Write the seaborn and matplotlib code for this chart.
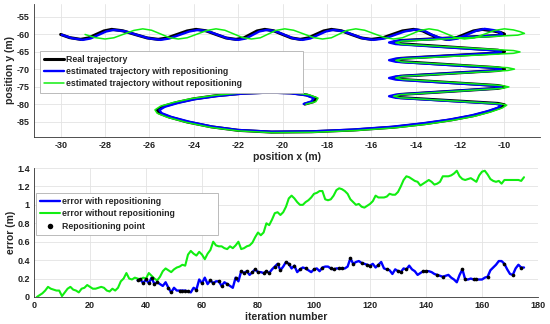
import numpy as np
import pandas as pd
import seaborn as sns
import matplotlib.pyplot as plt
from matplotlib.ticker import FuncFormatter

# --- top panel: trajectories (x, y in m) ---
real_x = [-30.0, -29.6, -29.1, -28.75, -28.4, -28.05, -27.7, -27.2, -26.65, -26.1, -25.6, -25.2, -24.75, -24.3,
          -23.9, -23.45, -23.0, -22.55, -22.1, -21.75, -21.45, -21.15, -20.8, -20.4, -20.0, -19.6, -19.2, -18.85,
          -18.5, -18.15, -17.8, -17.35, -16.9, -16.45, -16.0, -15.5, -15.05, -14.6, -14.1, -13.7, -13.35, -12.95,
          -12.6, -12.2, -11.8, -11.4, -11.0, -10.5, -10.15, -10.0,
          -10.3, -14.7, -15.0, -14.7, -10.3, -10.0, -10.3, -14.7, -15.0, -14.7, -10.3, -10.0, -10.3, -14.7, -15.0,
          -14.7, -10.3, -10.0, -10.3, -14.7, -15.0, -14.7, -10.3, -10.0,
          -10.2, -10.7, -11.4, -12.4, -13.6, -15.0, -16.8, -18.7, -20.5, -22.0, -23.2, -24.3, -25.1, -25.55,
          -25.65, -25.4, -24.8, -24.0, -23.0, -21.8, -20.6, -19.6, -18.9, -18.5, -18.6, -19.0]
real_y = [-60.0, -60.9, -61.4, -61.0, -60.0, -59.0, -58.55, -58.95, -60.0, -61.0, -61.4, -61.0, -60.0, -59.0,
          -58.55, -58.95, -60.0, -61.0, -61.4, -61.0, -60.0, -59.0, -58.55, -58.95, -60.0, -61.0, -61.4, -61.0,
          -60.0, -59.0, -58.55, -58.95, -60.0, -61.0, -61.4, -61.0, -60.0, -59.0, -58.55, -58.95, -60.0, -61.0,
          -61.4, -61.0, -60.0, -59.0, -58.55, -59.0, -59.5, -59.9,
          -60.3, -61.75, -62.2, -62.65, -64.5, -64.9, -65.3, -66.85, -67.3, -67.75, -69.5, -69.9, -70.3, -71.95,
          -72.4, -72.85, -74.6, -75.0, -75.4, -77.15, -77.6, -78.05, -79.7, -80.1,
          -80.9, -82.0, -83.2, -84.4, -85.5, -86.5, -87.3, -87.8, -87.9, -87.4, -86.4, -85.0, -83.6, -82.5,
          -81.6, -80.6, -79.5, -78.4, -77.5, -76.8, -76.5, -76.7, -77.3, -78.2, -79.2, -79.9]

repo_x = [-29.95, -29.5, -29.0, -28.65, -28.3, -27.95, -27.6, -27.1, -26.55, -26.0, -25.5, -25.1, -24.65, -24.2,
          -23.8, -23.35, -22.9, -22.45, -22.0, -21.65, -21.35, -21.05, -20.7, -20.3, -19.9, -19.5, -19.1, -18.75,
          -18.4, -18.05, -17.7, -17.25, -16.8, -16.35, -15.9, -15.4, -14.95, -14.5, -14.0, -13.6, -13.25, -12.85,
          -12.5, -12.1, -11.7, -11.3, -10.9, -10.45, -10.2, -10.1,
          -10.4, -14.9, -15.2, -14.9, -10.45, -10.15, -10.45, -14.9, -15.2, -14.9, -10.45, -10.15, -10.45, -14.9,
          -15.2, -14.9, -10.45, -10.15, -10.45, -14.9, -15.2, -14.9, -10.45, -10.15,
          -10.3, -10.8, -11.5, -12.5, -13.7, -15.1, -16.9, -18.7, -20.5, -22.0, -23.15, -24.2, -25.0, -25.45,
          -25.55, -25.3, -24.7, -23.95, -22.95, -21.8, -20.6, -19.65, -18.95, -18.6, -18.7, -19.05]
repo_y = [-60.1, -61.05, -61.55, -61.15, -60.15, -59.15, -58.7, -59.1, -60.15, -61.15, -61.55, -61.15, -60.15,
          -59.15, -58.7, -59.1, -60.15, -61.15, -61.55, -61.15, -60.15, -59.15, -58.7, -59.1, -60.15, -61.15,
          -61.55, -61.15, -60.15, -59.15, -58.7, -59.1, -60.15, -61.15, -61.55, -61.15, -60.15, -59.15, -58.6,
          -59.0, -60.15, -61.15, -61.55, -61.15, -60.1, -59.0, -58.4, -58.8, -59.35, -59.9,
          -60.35, -61.85, -62.3, -62.75, -64.55, -64.95, -65.35, -66.9, -67.35, -67.8, -69.55, -69.95, -70.35,
          -72.0, -72.45, -72.9, -74.65, -75.05, -75.45, -77.2, -77.65, -78.1, -79.75, -80.15,
          -80.95, -82.0, -83.15, -84.35, -85.4, -86.4, -87.2, -87.7, -87.8, -87.3, -86.35, -84.95, -83.6, -82.5,
          -81.6, -80.65, -79.55, -78.5, -77.6, -76.9, -76.6, -76.8, -77.35, -78.2, -79.15, -79.85]

norepo_x = [-28.9, -28.45, -28.0, -27.6, -27.15, -26.7, -26.3, -25.9, -25.5, -25.1, -24.7, -24.3, -23.85, -23.4,
            -23.0, -22.6, -22.2, -21.8, -21.4, -21.0, -20.65, -20.3, -19.9, -19.5, -19.05, -18.6, -18.2, -17.8,
            -17.45, -17.1, -16.7, -16.3, -15.85, -15.4, -15.0, -14.6, -14.2, -13.8, -13.4, -13.0, -12.6, -12.2,
            -11.8, -11.35, -10.9, -10.45, -10.0, -9.6, -9.3, -9.1,
            -9.4, -14.6, -14.9, -14.6, -9.6, -9.3, -9.6, -14.6, -14.9, -14.6, -9.85, -9.55, -9.85, -14.6, -14.9,
            -14.6, -10.1, -9.8, -10.1, -14.7, -15.0, -14.7, -10.2, -9.9,
            -10.1, -10.6, -11.3, -12.3, -13.5, -14.9, -16.7, -18.6, -20.5, -22.0, -23.25, -24.35, -25.2, -25.65,
            -25.75, -25.5, -24.9, -24.1, -23.05, -21.85, -20.6, -19.55, -18.8, -18.4, -18.5, -18.95]
norepo_y = [-60.0, -60.9, -61.3, -60.95, -59.9, -58.85, -58.4, -58.8, -59.85, -60.9, -61.3, -60.95, -59.9,
            -58.85, -58.4, -58.8, -59.85, -60.9, -61.3, -60.95, -59.9, -58.85, -58.4, -58.8, -59.85, -60.9, -61.3,
            -60.95, -59.9, -58.85, -58.4, -58.8, -59.85, -60.9, -61.3, -60.95, -59.9, -58.85, -58.4, -58.8, -59.85,
            -60.9, -61.3, -60.95, -59.9, -58.85, -58.4, -58.7, -59.2, -59.7,
            -60.2, -61.9, -62.35, -62.8, -64.6, -65.0, -65.4, -66.95, -67.4, -67.85, -69.5, -69.9, -70.3, -71.95,
            -72.4, -72.85, -74.6, -75.0, -75.4, -77.2, -77.65, -78.1, -79.8, -80.2,
            -81.0, -82.1, -83.3, -84.5, -85.65, -86.65, -87.45, -87.95, -88.05, -87.55, -86.55, -85.1, -83.65,
            -82.5, -81.55, -80.5, -79.4, -78.3, -77.4, -76.7, -76.4, -76.6, -77.25, -78.2, -79.2, -79.95]

# --- bottom panel: error (m) per iteration ---
err_norepo = [0.00, 0.02, 0.04, 0.07, 0.11, 0.09, 0.08, 0.07, 0.07, 0.01, 0.05, 0.09, 0.11, 0.08, 0.07, 0.05,
              0.09, 0.10, 0.13, 0.11, 0.09, 0.09, 0.10, 0.11, 0.10, 0.07, 0.06, 0.09, 0.07, 0.10, 0.17, 0.20,
              0.26, 0.20, 0.19, 0.21, 0.20, 0.19, 0.21, 0.20, 0.26, 0.23, 0.20, 0.18, 0.22, 0.28, 0.31, 0.29,
              0.27, 0.30, 0.32, 0.33, 0.35, 0.34, 0.46, 0.50, 0.47, 0.45, 0.49, 0.46, 0.41, 0.47, 0.51, 0.60,
              0.56, 0.55, 0.55, 0.53, 0.52, 0.55, 0.53, 0.56, 0.60, 0.52, 0.53, 0.55, 0.56, 0.59, 0.65, 0.70,
              0.67, 0.70, 0.80, 0.78, 0.84, 0.91, 0.92, 0.89, 0.92, 0.98, 1.07, 1.10, 1.07, 1.03, 1.00, 1.00,
              1.03, 1.05, 1.08, 1.12, 1.13, 1.15, 1.15, 1.06, 1.05, 1.06, 1.10, 1.16, 1.18, 1.17, 1.15, 1.12,
              1.06, 1.03, 1.00, 1.01, 0.98, 0.97, 0.99, 1.01, 1.04, 1.10, 1.08, 1.08, 1.08, 1.09, 1.12, 1.11,
              1.11, 1.14, 1.20, 1.27, 1.31, 1.30, 1.28, 1.26, 1.25, 1.21, 1.23, 1.25, 1.27, 1.25, 1.22, 1.23,
              1.25, 1.31, 1.31, 1.31, 1.32, 1.34, 1.37, 1.31, 1.28, 1.27, 1.28, 1.29, 1.27, 1.25, 1.32, 1.36,
              1.37, 1.33, 1.28, 1.26, 1.25, 1.26, 1.23, 1.27, 1.27, 1.27, 1.27, 1.27, 1.27, 1.26, 1.30]
norepo_start = 1

err_repo = [0.18, 0.19, 0.15, 0.19, 0.15, 0.21, 0.14, 0.16, 0.14, 0.12, 0.16, 0.10, 0.05, 0.10, 0.07, 0.07,
            0.07, 0.07, 0.06, 0.05, 0.10, 0.08, 0.19, 0.15, 0.21, 0.14, 0.18, 0.15, 0.17, 0.17, 0.12, 0.16,
            0.14, 0.12, 0.10, 0.21, 0.17, 0.28, 0.26, 0.28, 0.24, 0.27, 0.30, 0.27, 0.27, 0.26, 0.28, 0.26,
            0.30, 0.33, 0.36, 0.29, 0.33, 0.38, 0.36, 0.31, 0.34, 0.27, 0.30, 0.32, 0.31, 0.29, 0.27, 0.30,
            0.31, 0.28, 0.32, 0.33, 0.33, 0.31, 0.30, 0.31, 0.31, 0.31, 0.31, 0.33, 0.42, 0.36, 0.38, 0.39,
            0.37, 0.36, 0.35, 0.34, 0.36, 0.32, 0.35, 0.38, 0.31, 0.30, 0.29, 0.25, 0.30, 0.28, 0.27, 0.31,
            0.30, 0.34, 0.30, 0.28, 0.24, 0.26, 0.28, 0.28, 0.28, 0.27, 0.25, 0.24, 0.23, 0.22, 0.23, 0.24,
            0.21, 0.19, 0.16, 0.24, 0.30, 0.19, 0.19, 0.20, 0.19, 0.19, 0.19, 0.19, 0.21, 0.22, 0.29, 0.32,
            0.35, 0.39, 0.39, 0.36, 0.30, 0.25, 0.24, 0.31, 0.35, 0.32, 0.32]
repo_start = 37

reposition_iters = [37, 38, 39, 40, 41, 42, 43, 44, 48, 49, 52, 53, 54, 55, 58, 60, 63, 64, 66, 67, 69, 72, 74,
                    75, 76, 78, 79, 80, 82, 83, 84, 86, 87, 88, 90, 91, 93, 95, 97, 100, 103, 106, 107, 109,
                    110, 113, 114, 117, 119, 120, 123, 126, 130, 131, 133, 139, 140, 144, 146, 153, 154, 157,
                    158, 162, 168, 171, 174]

BLACK = "#000000"
BLUE = "#0000ff"
GREEN = "#11ee11"

sns.set_theme(style="white")
plt.rcParams["font.family"] = ["Liberation Sans", "DejaVu Sans"]
plt.rcParams["font.weight"] = "bold"
plt.rcParams["axes.labelweight"] = "bold"
plt.rcParams["axes.unicode_minus"] = False

fig = plt.figure(figsize=(5.5, 3.24), dpi=100)
ax1 = fig.add_axes([34 / 550, 1 - 137 / 324, 506 / 550, 133 / 324])
ax2 = fig.add_axes([34 / 550, 1 - 297 / 324, 504 / 550, 129 / 324])

# top panel
sns.lineplot(x=real_x, y=real_y, sort=False, estimator=None, color=BLACK, lw=2.2,
             label="Real trajectory", ax=ax1)
sns.lineplot(x=repo_x, y=repo_y, sort=False, estimator=None, color=BLUE, lw=1.7,
             label="estimated trajectory with repositioning", ax=ax1)
sns.lineplot(x=norepo_x, y=norepo_y, sort=False, estimator=None, color=GREEN, lw=1.1,
             label="estimated trajectory without repositioning", ax=ax1)
ax1.set_xlim(-31.2, -8.4)
ax1.set_ylim(-89.3, -51.3)
ax1.set_xticks(np.arange(-30, -9, 2))
ax1.set_yticks(np.arange(-85, -54, 5))
ax1.set_xlabel("position x (m)", fontsize=7.5, labelpad=1)
ax1.set_ylabel("position y (m)", fontsize=7.5, labelpad=1)

# bottom panel
df_repo = pd.DataFrame({"it": np.arange(repo_start, repo_start + len(err_repo)), "err": err_repo})
df_norepo = pd.DataFrame({"it": np.arange(norepo_start, norepo_start + len(err_norepo)), "err": err_norepo})
df_pts = df_repo[df_repo["it"].isin(reposition_iters)]

sns.lineplot(data=df_repo, x="it", y="err", color=BLUE, lw=1.7, label="error with repositioning", ax=ax2)
sns.lineplot(data=df_norepo, x="it", y="err", color=GREEN, lw=1.5, label="error without repositioning", ax=ax2)
sns.scatterplot(data=df_pts, x="it", y="err", color=BLACK, s=7, linewidth=0, zorder=5,
                label="Repositioning point", ax=ax2)
ax2.set_xlim(0, 180)
ax2.set_ylim(0, 1.4)
ax2.set_xticks(np.arange(0, 181, 20))
ax2.set_yticks(np.arange(0, 1.41, 0.2))
ax2.yaxis.set_major_formatter(FuncFormatter(lambda v, p: f"{v:g}"))
ax2.set_xlabel("iteration number", fontsize=7.5, labelpad=1)
ax2.set_ylabel("error (m)", fontsize=7.5, labelpad=1)

for ax in (ax1, ax2):
    ax.grid(True, color="#e3e3e3", lw=0.6)
    ax.set_axisbelow(True)
    for s in ("top", "right"):
        ax.spines[s].set_visible(False)
    for s in ("left", "bottom"):
        ax.spines[s].set_color("#333333")
        ax.spines[s].set_linewidth(0.6)
    ax.tick_params(direction="in", length=2.5, width=0.5, labelsize=6.5, pad=3, colors="#222222")
    for t in ax.get_xticklabels() + ax.get_yticklabels():
        t.set_fontweight("bold")

leg_kw = dict(loc="upper left", mode="expand", fontsize=6.3, frameon=True, fancybox=False,
              edgecolor="#b0b0b0", framealpha=1, handlelength=2.2, handletextpad=0.3,
              labelspacing=0.35, borderpad=0.5, borderaxespad=0)
leg1 = ax1.legend(bbox_to_anchor=(0.012, 0.647 - 0.30, 0.52, 0.30), **leg_kw)
leg2 = ax2.legend(bbox_to_anchor=(0.004, 0.806 - 0.30, 0.361, 0.30), markerscale=1.5, **leg_kw)
for leg in (leg1, leg2):
    leg.get_frame().set_linewidth(0.6)

fig.savefig("out.png", dpi=100)
